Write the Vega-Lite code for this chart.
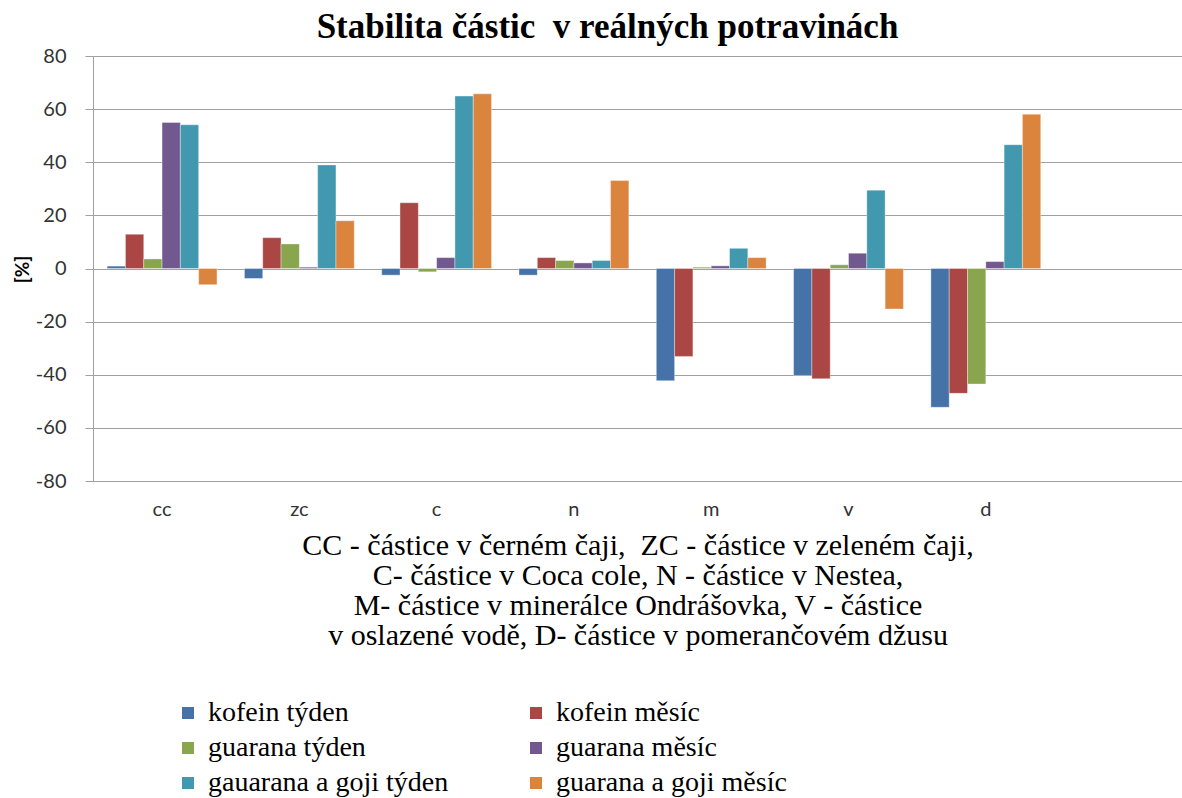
{
  "$schema": "https://vega.github.io/schema/vega-lite/v6.json",
  "autosize": "none",
  "width": 1089,
  "height": 425,
  "padding": {"left": 93, "top": 56, "right": 0, "bottom": 317},
  "background": "white",
  "title": {
    "text": "Stabilita částic\u00a0 v reálných potravinách",
    "font": "Liberation Serif",
    "fontSize": 35,
    "fontWeight": "bold",
    "color": "#000000",
    "anchor": "middle",
    "frame": "group",
    "dx": -30,
    "dy": 13,
    "offset": 14
  },
  "data": {
    "values": [
      {"cat": "cc", "series": "kofein týden", "value": 0.9},
      {"cat": "cc", "series": "kofein měsíc", "value": 12.9},
      {"cat": "cc", "series": "guarana týden", "value": 3.6},
      {"cat": "cc", "series": "guarana měsíc", "value": 55.0},
      {"cat": "cc", "series": "gauarana a goji týden", "value": 54.1},
      {"cat": "cc", "series": "guarana a goji měsíc", "value": -6.1},
      {"cat": "zc", "series": "kofein týden", "value": -3.75},
      {"cat": "zc", "series": "kofein měsíc", "value": 11.6},
      {"cat": "zc", "series": "guarana týden", "value": 9.25},
      {"cat": "zc", "series": "guarana měsíc", "value": 0.5},
      {"cat": "zc", "series": "gauarana a goji týden", "value": 39.0},
      {"cat": "zc", "series": "guarana a goji měsíc", "value": 18.0},
      {"cat": "c", "series": "kofein týden", "value": -2.5},
      {"cat": "c", "series": "kofein měsíc", "value": 24.75},
      {"cat": "c", "series": "guarana týden", "value": -1.25},
      {"cat": "c", "series": "guarana měsíc", "value": 4.1},
      {"cat": "c", "series": "gauarana a goji týden", "value": 64.9},
      {"cat": "c", "series": "guarana a goji měsíc", "value": 65.75},
      {"cat": "n", "series": "kofein týden", "value": -2.5},
      {"cat": "n", "series": "kofein měsíc", "value": 4.1},
      {"cat": "n", "series": "guarana týden", "value": 3.0},
      {"cat": "n", "series": "guarana měsíc", "value": 2.1},
      {"cat": "n", "series": "gauarana a goji týden", "value": 3.0},
      {"cat": "n", "series": "guarana a goji měsíc", "value": 33.1},
      {"cat": "m", "series": "kofein týden", "value": -42.25},
      {"cat": "m", "series": "kofein měsíc", "value": -33.1},
      {"cat": "m", "series": "guarana týden", "value": 0.5},
      {"cat": "m", "series": "guarana měsíc", "value": 1.0},
      {"cat": "m", "series": "gauarana a goji týden", "value": 7.6},
      {"cat": "m", "series": "guarana a goji měsíc", "value": 4.1},
      {"cat": "v", "series": "kofein týden", "value": -40.25},
      {"cat": "v", "series": "kofein měsíc", "value": -41.5},
      {"cat": "v", "series": "guarana týden", "value": 1.4},
      {"cat": "v", "series": "guarana měsíc", "value": 5.75},
      {"cat": "v", "series": "gauarana a goji týden", "value": 29.5},
      {"cat": "v", "series": "guarana a goji měsíc", "value": -15.25},
      {"cat": "d", "series": "kofein týden", "value": -52.25},
      {"cat": "d", "series": "kofein měsíc", "value": -47.0},
      {"cat": "d", "series": "guarana týden", "value": -43.5},
      {"cat": "d", "series": "guarana měsíc", "value": 2.6},
      {"cat": "d", "series": "gauarana a goji týden", "value": 46.6},
      {"cat": "d", "series": "guarana a goji měsíc", "value": 58.1}
    ]
  },
  "mark": {"type": "bar", "stroke": "#ffffff", "strokeOpacity": 0.6, "strokeWidth": 0.6},
  "encoding": {
    "x": {
      "field": "cat",
      "type": "nominal",
      "scale": {
        "domain": ["cc", "zc", "c", "n", "m", "v", "d", " "],
        "paddingInner": 0.2,
        "paddingOuter": 0.066,
        "align": 0.78
      },
      "axis": {
        "title": [
          "CC - částice v černém čaji,\u00a0 ZC - částice v zeleném čaji,",
          "C- částice v Coca cole, N - částice v Nestea,",
          "M- částice v minerálce Ondrášovka, V - částice",
          "v oslazené vodě, D- částice v pomerančovém džusu"
        ],
        "titleFont": "Liberation Serif",
        "titleFontSize": 30,
        "titleFontWeight": "normal",
        "titleColor": "#000000",
        "titleLineHeight": 30,
        "titlePadding": 11,
        "labelAngle": 0,
        "labelFont": "Lato",
        "labelFontSize": 20,
        "labelColor": "#333333",
        "labelPadding": 18,
        "ticks": false,
        "domain": false,
        "grid": false
      }
    },
    "xOffset": {
      "field": "series",
      "type": "nominal",
      "scale": {
        "domain": ["kofein týden", "kofein měsíc", "guarana týden", "guarana měsíc", "gauarana a goji týden", "guarana a goji měsíc"],
        "paddingInner": 0,
        "paddingOuter": 0
      }
    },
    "y": {
      "field": "value",
      "type": "quantitative",
      "scale": {"domain": [-80, 80], "nice": false, "zero": true},
      "axis": {
        "title": "[%]",
        "titleFont": "Lato",
        "titleFontSize": 19,
        "titleFontWeight": "bold",
        "titleColor": "#000000",
        "titleX": -71,
        "titleY": 213,
        "titleAngle": -90,
        "titleAlign": "center",
        "titleBaseline": "middle",
        "values": [-80, -60, -40, -20, 0, 20, 40, 60, 80],
        "labelExpr": "replace(datum.label, '\u2212', '-')",
        "labelFont": "Lato",
        "labelFontSize": 20,
        "labelColor": "#333333",
        "labelPadding": 19,
        "tickSize": 8,
        "tickColor": "#a0a0a0",
        "domainColor": "#a0a0a0",
        "gridColor": "#a0a0a0",
        "grid": true
      }
    },
    "color": {
      "field": "series",
      "type": "nominal",
      "scale": {
        "domain": ["kofein týden", "guarana týden", "gauarana a goji týden", "kofein měsíc", "guarana měsíc", "guarana a goji měsíc"],
        "range": ["#4572A7", "#89A54E", "#4198AF", "#AA4643", "#71588F", "#DB843D"]
      },
      "legend": {
        "title": null,
        "orient": "none",
        "legendX": 81,
        "legendY": 643,
        "columns": 2,
        "columnPadding": 73,
        "rowPadding": 7,
        "symbolType": "square",
        "symbolSize": 144,
        "symbolStrokeWidth": 0,
        "labelFont": "Liberation Serif",
        "labelFontSize": 28,
        "labelColor": "#000000",
        "labelOffset": 6,
        "labelLimit": 500
      }
    }
  },
  "config": {
    "view": {"stroke": null}
  }
}
